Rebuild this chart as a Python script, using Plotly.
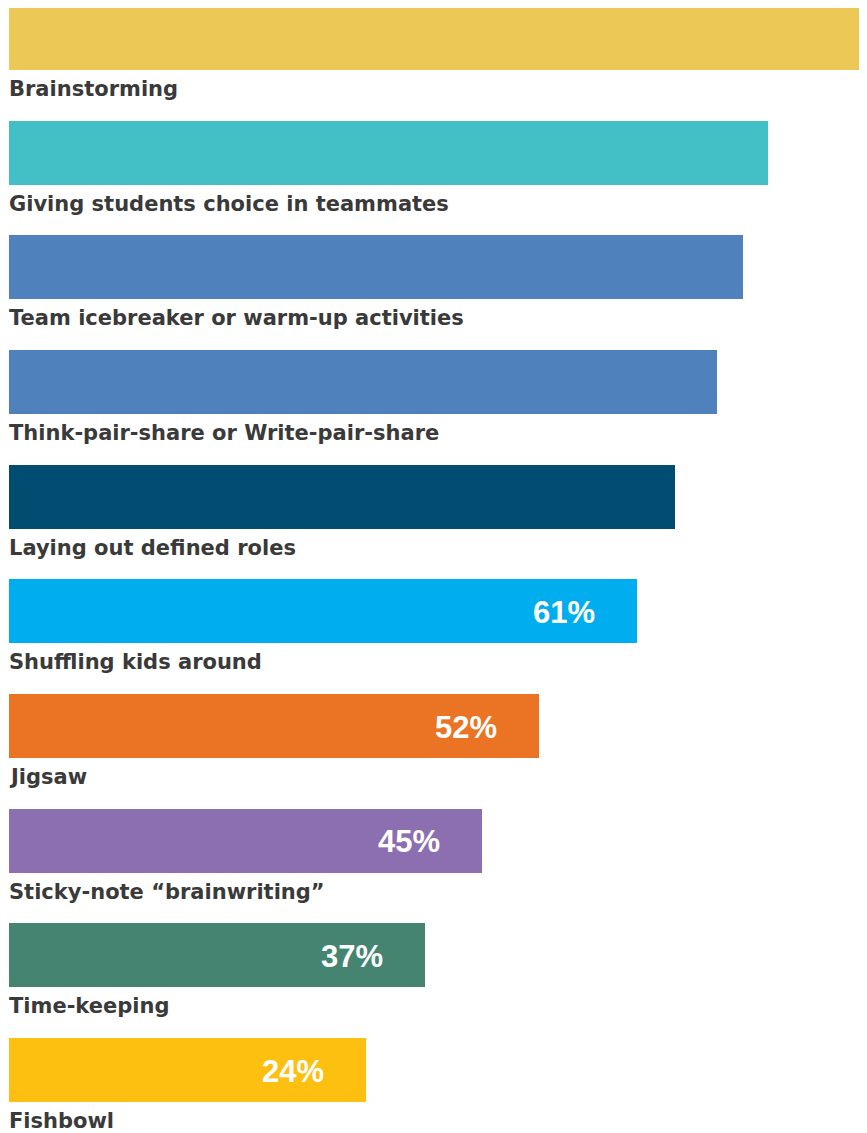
import plotly.graph_objects as go

categories = [
    "Brainstorming",
    "Giving students choice in teammates",
    "Team icebreaker or warm-up activities",
    "Think-pair-share or Write-pair-share",
    "Laying out defined roles",
    "Shuffling kids around",
    "Jigsaw",
    "Sticky-note \u201cbrainwriting\u201d",
    "Time-keeping",
    "Fishbowl",
]
# bar lengths (axis 0-100)
bar_length = [99.5, 88.5, 85.5, 82.5, 77.6, 73.2, 61.8, 55.1, 48.5, 41.6]
pct_labels = ["", "", "", "", "", "61%", "52%", "45%", "37%", "24%"]
colors = ["#ECC857", "#42C0C6", "#4F81BD", "#4F81BD", "#004D71",
          "#00AEEF", "#EA7424", "#8C6FB0", "#448470", "#FDC010"]

idx = list(range(len(categories)))

fig = go.Figure()
fig.add_trace(go.Bar(
    x=bar_length, y=idx, orientation="h",
    marker=dict(color=colors, line=dict(width=0)),
    width=0.558, hoverinfo="skip", cliponaxis=False,
))

annotations = []
for i, (cat, v, p) in enumerate(zip(categories, bar_length, pct_labels)):
    annotations.append(dict(
        x=0, y=i + 0.445, xref="x", yref="y", text=cat, showarrow=False,
        xanchor="left", yanchor="middle", xshift=-2,
        font=dict(family="DejaVu Sans", size=21, color="#3a3a3a", weight="bold"),
    ))
    if p:
        annotations.append(dict(
            x=v, y=i, xref="x", yref="y", text=p, showarrow=False,
            xanchor="right", yanchor="middle", xshift=-40, yshift=-1,
            font=dict(family="Liberation Sans", size=31, color="white", weight="bold"),
        ))

# page body has an 8px margin, so the figure is sized to end at the window edge
fig.update_layout(
    width=859, height=1125,
    margin=dict(l=1, r=0, t=0, b=0),
    paper_bgcolor="white", plot_bgcolor="white",
    showlegend=False,
    xaxis=dict(range=[0, 100], visible=False, fixedrange=True),
    yaxis=dict(range=[9.549, -0.2616], visible=False, fixedrange=True),
    annotations=annotations,
    bargap=0,
)

fig.write_html("out.html", config={"displayModeBar": False})
